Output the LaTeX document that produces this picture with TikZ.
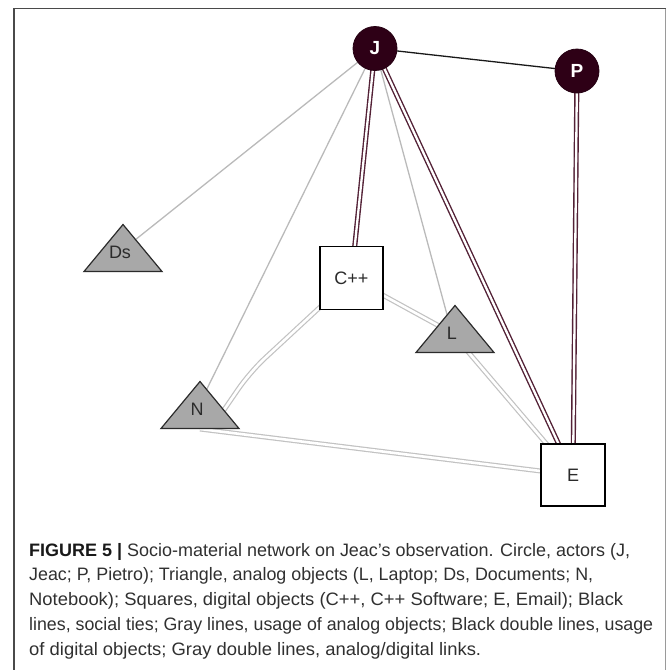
\documentclass[tikz,border=0pt]{standalone}
\usepackage{fontspec}
\usepackage{graphicx}
\setmainfont{Liberation Sans}

\definecolor{actorfill}{HTML}{2E0016}
\definecolor{digitalline}{HTML}{532136}
\definecolor{analogline}{HTML}{BABABA}
\definecolor{linkline}{HTML}{C2C2C2}
\definecolor{trifill}{HTML}{A8A8A8}
\definecolor{inkgray}{HTML}{2B2B2B}
\definecolor{framedark}{HTML}{4A4A4A}
\definecolor{framelight}{HTML}{9A9A9A}
\definecolor{captext}{HTML}{303030}

\pgfdeclarelayer{edges}
\pgfdeclarelayer{shapes}
\pgfsetlayers{edges,shapes,main}

\newcommand\capfont{\fontsize{18}{24.75}\selectfont}
\newcommand\labelfont{\fontsize{18}{18}\selectfont}
% one caption line, stretched horizontally to a given width
\newcommand\capfit[2]{\resizebox{#1pt}{\height}{#2}}

% gray triangle drawn around an analog object's label
\newcommand\analogtri[1]{%
  \filldraw[trishape] ([shift={(3,-27.5)}]#1.center)
    -- ([shift={(-36,19.5)}]#1.center)
    -- ([shift={(42,19.5)}]#1.center) -- cycle;}

\tikzset{
  actor/.style={circle, fill=actorfill, draw=actorfill!80!black, line width=0.8pt,
    minimum size=44pt, inner sep=0pt, text=white,
    font=\fontsize{19}{19}\selectfont\bfseries},
  digital/.style={rectangle, fill=white, draw=black, line width=1.2pt,
    minimum width=63pt, minimum height=63pt, inner sep=0pt, text=inkgray, font=\labelfont},
  analog/.style={inner sep=0pt, text=inkgray, font=\labelfont},
  trishape/.style={fill=trifill, draw=inkgray, line width=1.2pt, line join=miter},
  social/.style={draw=black!90, line width=1.3pt},
  usage/.style={draw=analogline, line width=1.3pt},
  digiuse/.style={draw=digitalline, line width=1.4pt, double=white, double distance=2.3pt},
  link/.style={draw=linkline, line width=1.2pt, double=white, double distance=2.6pt},
  capline/.style={anchor=base west, inner sep=0pt, text=captext, font=\capfont},
}

\begin{document}
\begin{tikzpicture}[x=1pt, y=-1pt]
  \useasboundingbox (0,0) rectangle (670,670);

  % figure frame
  \draw[framedark, line width=1.6pt] (14,670) -- (14,8.5) -- (665.5,8.5);
  \draw[framelight, line width=1.4pt] (665.5,8.5) -- (665.5,670);

  % actors
  \node[actor] (J) at (375,48.5) {J};
  \node[actor] (P) at (577,71) {P};

  % digital objects
  \node[digital] (Cpp) at (351.5,278) {C++};
  \node[digital, minimum width=64pt, minimum height=62pt] (E) at (573,475) {E};

  % analog objects
  \node[analog] (Ds) at (120,252) {Ds};
  \node[analog] (L) at (452,333) {L};
  \node[analog] (N) at (197,409) {N};
  \begin{pgfonlayer}{shapes}
    \analogtri{Ds}
    \analogtri{L}
    \analogtri{N}
  \end{pgfonlayer}

  \coordinate (bendCN) at (250,372);

  % ties
  \begin{pgfonlayer}{edges}
    \draw[social] (J.center) -- (P.center);
    \draw[usage] (J.center) -- (Ds.center);
    \draw[usage] (J.center) -- (N.center);
    \draw[usage] (J.center) -- (L.center);
    \draw[digiuse] (J.center) -- (Cpp.center);
    \draw[digiuse] (J.center) -- (E.center);
    \draw[digiuse] (P.center) -- (E.center);
    \draw[link] (Cpp.center) -- (L.center);
    \draw[link] (L.center) -- (E.center);
    \draw[link, rounded corners=20pt] (Cpp.center) -- (bendCN) -- ([shift={(18,14)}]N.center);
    \draw[link] ([shift={(3,20)}]N.center) -- (E.center);
  \end{pgfonlayer}

  % caption
  \node[capline] (cap1) at (29,556) {\capfit{601}{\textcolor{black!90}{\textbf{FIGURE 5 |}} Socio-material network on Jeac’s observation. Circle, actors (J,}};
  \node[capline] (cap2) at (29,580.75) {\capfit{564}{Jeac; P, Pietro); Triangle, analog objects (L, Laptop; Ds, Documents; N,}};
  \node[capline] (cap3) at (29,605.5) {\capfit{594}{Notebook); Squares, digital objects (C++, C++ Software; E, Email); Black}};
  \node[capline] (cap4) at (29,630.25) {\capfit{624}{lines, social ties; Gray lines, usage of analog objects; Black double lines, usage}};
  \node[capline] (cap5) at (29,655) {\capfit{452}{of digital objects; Gray double lines, analog/digital links.}};
\end{tikzpicture}
\end{document}
